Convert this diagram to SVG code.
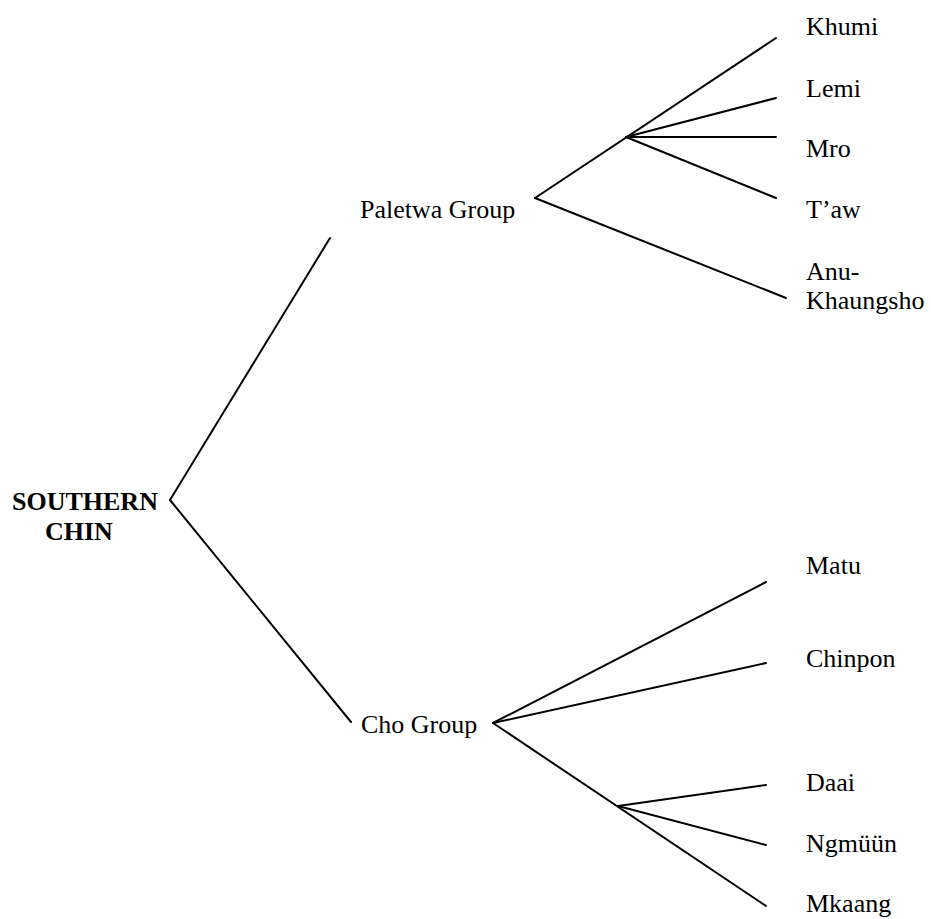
<svg xmlns="http://www.w3.org/2000/svg" width="931" height="919" viewBox="0 0 931 919">
<style>
text{font-family:"Liberation Serif","Times New Roman",serif;font-size:26px;fill:#000}
.b{font-weight:bold}
.c line{stroke:#000;stroke-width:2;stroke-linecap:round}
</style>
<rect width="931" height="919" fill="#fff"/>
<g class="c" id="connectors">
<line x1="170" y1="500" x2="330" y2="238"/>
<line x1="170" y1="500" x2="351" y2="722"/>
<line x1="535" y1="198" x2="776" y2="38"/>
<line x1="535" y1="198" x2="786" y2="298"/>
<line x1="626" y1="137" x2="776" y2="98"/>
<line x1="626" y1="137" x2="776" y2="137"/>
<line x1="626" y1="137" x2="776" y2="198"/>
<line x1="493" y1="723" x2="766" y2="582"/>
<line x1="493" y1="723" x2="766" y2="663"/>
<line x1="493" y1="723" x2="766" y2="906"/>
<line x1="618" y1="806" x2="766" y2="785"/>
<line x1="618" y1="806" x2="766" y2="845"/>
</g>
<g id="root"><text class="b" x="12" y="510">SOUTHERN</text><text class="b" x="45" y="540">CHIN</text></g>
<g id="paletwa"><text x="360" y="218">Paletwa Group</text></g>
<g id="cho"><text x="361" y="733">Cho Group</text></g>
<g id="khumi"><text x="806" y="35">Khumi</text></g>
<g id="lemi"><text x="806" y="97">Lemi</text></g>
<g id="mro"><text x="806" y="157">Mro</text></g>
<g id="taw"><text x="806" y="218">T’aw</text></g>
<g id="anu"><text x="806" y="280">Anu-</text><text x="806" y="309">Khaungsho</text></g>
<g id="matu"><text x="806" y="574">Matu</text></g>
<g id="chinpon"><text x="806" y="667">Chinpon</text></g>
<g id="daai"><text x="806" y="791">Daai</text></g>
<g id="ngmuun"><text x="806" y="852">Ngmüün</text></g>
<g id="mkaang"><text x="806" y="912">Mkaang</text></g>
</svg>
